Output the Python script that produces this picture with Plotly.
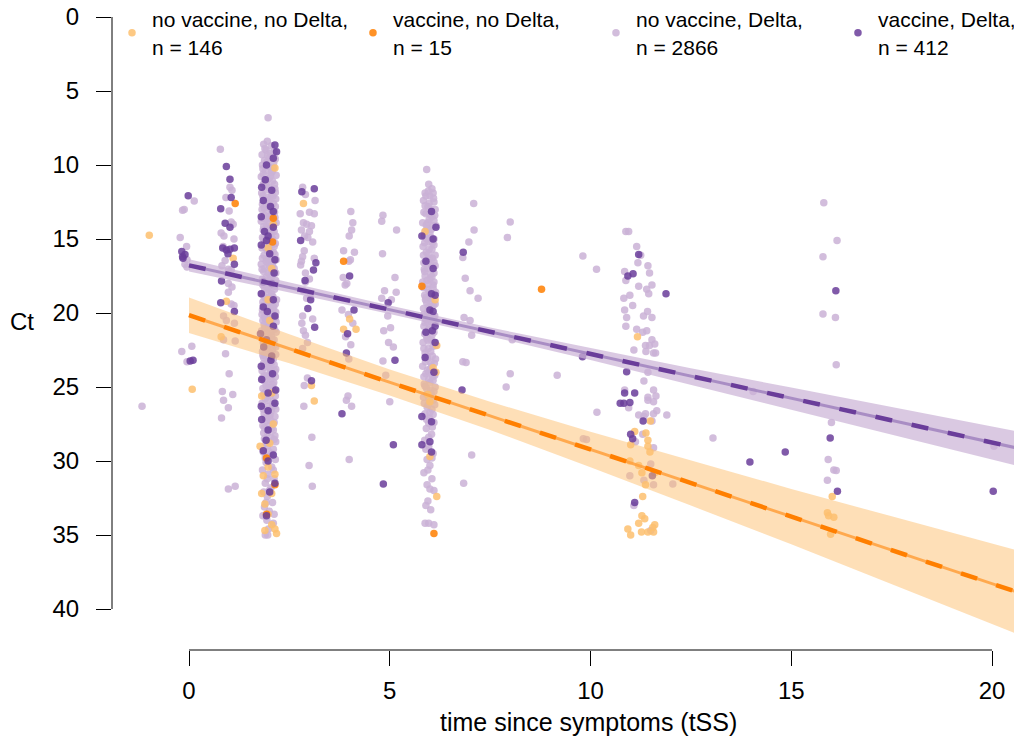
import plotly.graph_objects as go

# ---------------- data ----------------
group_names = ["no vaccine, no Delta,<br>n = 146", "vaccine, no Delta,<br>n = 15",
               "no vaccine, Delta,<br>n = 2866", "vaccine, Delta,<br>n = 412"]
group_colors = ["#FDBF6F", "#FF7F00", "#CAB2D6", "#6A3D9A"]

# no vaccine, no Delta (light orange)
nv_nd_pts = [(-0.99, 14.75), (0.08, 25.16), (0.93, 19.2), (0.8, 21.6), (1.1, 16.3),
             (2.14, 10.2), (2.1, 14.0), (1.97, 15.6), (2.06, 17.0), (1.97, 19.1), (2.01, 20.5),
             (1.9, 22.0), (1.81, 25.6), (2.06, 25.4), (1.77, 29.0), (2.01, 28.8), (1.97, 30.4),
             (2.14, 30.9), (1.81, 32.2), (2.06, 32.2), (1.89, 32.9), (1.97, 33.6), (2.06, 34.3),
             (1.89, 34.7), (2.18, 34.9), (2.14, 34.6), (1.85, 31.0), (2.1, 27.5),
             (2.85, 12.6), (3.05, 24.9), (3.12, 25.95), (3.85, 21.1), (4.16, 21.1), (4.0, 20.4),
             (5.88, 14.5), (6.13, 19.1), (6.17, 22.2), (6.08, 23.7), (6.15, 24.0), (6.0, 26.0),
             (6.0, 29.7), (6.17, 32.4), (5.95, 25.5),
             (11.17, 21.6), (11.49, 27.3), (11.1, 28.0), (11.38, 28.1), (11.43, 28.6), (11.0, 28.9),
             (11.43, 29.0), (11.48, 29.4), (10.98, 30.0), (11.2, 30.3), (11.28, 30.8), (11.6, 30.8),
             (11.37, 31.6), (11.3, 32.4), (11.28, 33.7), (11.2, 34.2), (11.35, 33.9), (11.6, 34.3),
             (11.55, 34.5), (10.93, 34.6), (11.0, 35.0), (11.27, 34.8), (11.43, 34.8), (11.57, 34.8),
             (16.02, 32.4), (15.9, 33.5), (15.93, 33.7), (16.06, 33.8), (15.98, 34.95)]

# vaccine, no Delta (orange)
v_nd_pts = [(1.15, 12.6), (2.1, 13.6), (2.08, 15.2), (1.93, 29.8), (2.14, 31.6), (1.93, 33.6),
            (3.85, 16.5), (5.8, 18.2), (6.1, 34.9), (8.78, 18.4)]

# no vaccine, Delta (lilac)
nv_d_pts = [
    # around day 0
    (-1.17, 26.3), (-0.16, 13.06), (-0.22, 14.9), (-0.06, 15.5), (-0.05, 16.4), (-0.1, 16.7),
    (-0.05, 16.9), (0.07, 22.25), (-0.18, 22.6), (-0.05, 23.3), (0.13, 12.43), (-0.12, 13.0),
    # day 1
    (0.78, 8.94), (1.02, 11.5), (1.07, 11.7), (1.0, 13.1), (1.1, 14.0), (1.05, 13.85), (0.8, 14.6),
    (0.87, 14.8), (1.12, 15.0), (0.9, 16.45), (0.82, 16.8), (0.98, 17.05), (1.05, 17.1),
    (0.98, 18.0), (1.07, 18.25), (0.98, 18.6), (1.05, 19.4), (1.12, 19.5), (0.86, 20.2),
    (0.93, 20.5), (1.13, 20.7), (0.86, 21.8), (1.15, 21.9), (0.91, 22.75), (1.0, 24.1),
    (0.83, 25.3), (1.09, 25.5), (0.86, 25.9), (0.98, 26.4), (0.81, 27.1), (0.98, 31.9),
    (1.15, 31.7), (0.85, 15.5), (0.92, 12.2),
    # day 2 (dense)
    (1.97, 6.8), (1.95, 8.4), (1.86, 8.6), (2.05, 8.7), (1.92, 9.0), (2.12, 9.1), (1.82, 9.3),
    (2.0, 9.5), (1.88, 9.7), (2.15, 9.6), (1.83, 10.0), (1.98, 10.1), (2.1, 10.2), (1.9, 10.4),
    (2.05, 10.5), (2.17, 10.7), (1.8, 10.8), (1.95, 11.0), (2.08, 11.1), (1.85, 11.3), (2.0, 11.5),
    (2.14, 11.6), (1.9, 11.7), (1.81, 11.9), (2.05, 12.0), (1.96, 12.2), (2.16, 12.3), (1.86, 12.4),
    (2.1, 12.6), (1.92, 12.7), (2.02, 12.9), (1.82, 13.0), (2.13, 13.2), (1.88, 13.4), (1.98, 13.5),
    (2.07, 13.7), (1.8, 13.8), (2.17, 13.9), (1.93, 14.1), (2.03, 14.2), (1.85, 14.4), (2.12, 14.5),
    (1.97, 14.7), (1.83, 14.9), (2.08, 15.0), (1.9, 15.2), (2.15, 15.3), (2.0, 15.5), (1.82, 15.6),
    (1.95, 15.8), (2.1, 15.9), (1.87, 16.1), (2.04, 16.2), (2.17, 16.4), (1.92, 16.5), (1.8, 16.7),
    (2.0, 16.8), (2.12, 17.0), (1.86, 17.2), (1.97, 17.3), (2.07, 17.5), (1.83, 17.7), (2.16, 17.8),
    (1.93, 17.9), (2.03, 18.1), (1.88, 18.3), (2.13, 18.4), (1.98, 18.6), (1.81, 18.7), (2.09, 18.9),
    (1.91, 19.0), (2.18, 19.1), (2.0, 19.3), (1.85, 19.5), (2.11, 19.6), (1.95, 19.8), (2.05, 20.0),
    (1.82, 20.1), (2.15, 20.3), (1.9, 20.4), (2.02, 20.6), (1.87, 20.8), (2.1, 20.9), (1.96, 21.1),
    (1.81, 21.2), (2.17, 21.3), (2.05, 21.5), (1.92, 21.6), (2.12, 21.8), (1.85, 22.0), (2.0, 22.1),
    (1.95, 22.3), (2.08, 22.5), (1.83, 22.6), (2.16, 22.8), (1.9, 22.9), (2.03, 23.1), (1.97, 23.3),
    (1.86, 23.4), (2.12, 23.5), (2.0, 23.7), (1.82, 23.9), (2.1, 24.0), (1.93, 24.2), (2.15, 24.3),
    (2.04, 24.5), (1.88, 24.6), (1.98, 24.8), (2.08, 25.0), (1.84, 25.1), (2.13, 25.3), (1.95, 25.4),
    (2.02, 25.6), (1.9, 25.8), (2.1, 26.0), (1.82, 26.1), (1.97, 26.3), (2.16, 26.5), (2.05, 26.6),
    (1.87, 26.8), (2.0, 27.0), (1.93, 27.3), (2.12, 27.4), (1.84, 27.6), (2.06, 27.8), (1.96, 28.1),
    (2.14, 28.3), (1.88, 28.5), (2.02, 28.7), (1.95, 29.0), (2.1, 29.2), (1.85, 29.4), (2.0, 29.7),
    (2.15, 29.9), (1.92, 30.1), (2.06, 30.4), (1.83, 30.6), (1.97, 30.9), (2.12, 31.2), (1.9, 31.5),
    (2.04, 31.8), (1.86, 32.1), (1.95, 32.4), (2.08, 32.8), (1.88, 33.1), (2.0, 33.4), (1.84, 33.7),
    (1.94, 34.0), (2.1, 34.2), (1.98, 34.6), (1.9, 35.0),
    (1.89, 8.9), (2.02, 9.2), (1.94, 9.8), (2.08, 10.4), (1.85, 10.6), (2.0, 10.9), (2.13, 11.3),
    (1.93, 11.4), (1.84, 12.1), (2.09, 12.1), (2.0, 12.5), (1.87, 12.9), (2.15, 12.8), (1.95, 13.1),
    (2.05, 13.4), (1.83, 13.6), (2.11, 14.0), (1.98, 13.9), (1.9, 14.4), (2.06, 14.6), (2.16, 14.8),
    (1.86, 15.0), (1.98, 15.3), (2.12, 15.5), (1.91, 15.6), (2.04, 15.9), (1.83, 16.3), (2.1, 16.5),
    (1.97, 16.6), (1.88, 17.0), (2.06, 17.1), (2.16, 17.3), (1.92, 17.6), (2.0, 17.9), (1.84, 18.1),
    (2.12, 18.2), (1.95, 18.4), (2.06, 18.7), (1.87, 18.9), (2.15, 19.4), (1.98, 19.5), (1.83, 19.8),
    (2.09, 19.8), (1.94, 20.2), (2.03, 20.4), (2.17, 20.6), (1.84, 20.5), (1.98, 20.8), (2.13, 21.1),
    (1.89, 21.0), (2.02, 21.3), (1.95, 21.8), (1.83, 21.7), (2.08, 22.0), (2.16, 22.3), (1.9, 22.4),
    (2.02, 22.7), (1.86, 23.0), (2.1, 23.1), (1.95, 23.6), (2.16, 23.8), (1.87, 23.7), (2.05, 23.9),
    (1.98, 24.3), (1.83, 24.4), (2.11, 24.7), (1.92, 24.9), (2.02, 25.2), (1.86, 25.5), (2.15, 25.6),
    (1.96, 25.9), (2.08, 26.3), (1.85, 26.5), (2.02, 26.9), (2.14, 27.0), (1.9, 27.1), (1.98, 27.6),
    (2.1, 27.9), (1.86, 28.1), (2.04, 28.4), (2.16, 28.7), (1.92, 28.8), (2.07, 29.5), (1.9, 29.8),
    (2.1, 30.6), (1.95, 31.2), (2.0, 32.0), (1.92, 32.8), (2.12, 33.6), (1.96, 35.0),
    (1.96, 9.35), (2.11, 9.85), (1.84, 10.25), (2.03, 10.75), (1.9, 11.15), (2.15, 11.85), (1.99, 12.35),
    (1.83, 12.65), (2.07, 13.05), (1.92, 13.65), (2.14, 13.55), (1.86, 14.15), (2.01, 14.35), (2.09, 15.35),
    (1.88, 15.45), (2.02, 15.05), (2.14, 16.05), (1.95, 16.35), (2.08, 16.75), (1.82, 17.05), (2.02, 17.45),
    (1.9, 17.85), (2.14, 18.05), (1.96, 18.25), (2.04, 18.85), (1.84, 19.25), (1.93, 19.65), (2.07, 19.45),
    (2.16, 19.95), (1.88, 20.25), (2.1, 20.35), (2.0, 20.95), (1.85, 21.35), (2.07, 21.75), (1.94, 22.05),
    (2.12, 22.15), (1.98, 22.55), (1.84, 22.85), (2.06, 23.35), (1.92, 23.45), (2.14, 23.95), (1.87, 24.25),
    (2.02, 24.05), (2.09, 24.85), (1.9, 25.35), (1.99, 25.05), (2.12, 26.25), (1.94, 26.55), (2.03, 27.25),
    (1.88, 27.75), (2.12, 28.55), (1.98, 29.35),
    # day 3
    (2.83, 11.5), (3.14, 12.4), (2.77, 13.3), (3.0, 13.2), (3.12, 13.3), (2.85, 13.9), (2.93, 14.0),
    (3.05, 14.1), (2.8, 14.4), (3.0, 14.5), (2.88, 14.8), (3.08, 15.2), (2.96, 14.9), (2.87, 15.8),
    (2.83, 16.2), (2.8, 16.5), (3.12, 16.3), (2.78, 16.75), (2.9, 17.3), (3.0, 17.7), (2.9, 17.9),
    (2.85, 18.5), (2.93, 19.0), (3.02, 18.9), (2.83, 20.2), (3.08, 20.4), (2.81, 20.7), (2.85, 21.2),
    (2.9, 21.5), (2.95, 22.0), (2.83, 22.4), (2.87, 24.9), (2.86, 26.3), (3.06, 28.4), (2.99, 30.3),
    (3.07, 31.7), (2.95, 24.4), (2.9, 12.0),
    # day 4
    (4.03, 13.15), (4.08, 13.9), (4.05, 14.4), (3.99, 14.8), (3.85, 15.8), (4.12, 15.9), (4.02, 16.4),
    (3.98, 16.5), (3.84, 17.6), (3.89, 18.1), (3.93, 18.0), (3.81, 19.8), (3.97, 20.1), (4.08, 20.7),
    (3.9, 21.6), (4.03, 22.15), (3.98, 23.1), (3.96, 25.6), (3.92, 25.9), (4.05, 26.3), (3.99, 29.9),
    # day 5
    (4.83, 13.4), (4.8, 13.8), (5.17, 14.4), (4.82, 15.99), (5.13, 17.6), (4.87, 18.5), (5.16, 18.6),
    (4.8, 19.0), (5.04, 19.1), (4.95, 20.2), (5.02, 21.0), (4.85, 21.2), (4.97, 22.0), (5.09, 22.3),
    (4.83, 23.25), (4.9, 24.2), (5.0, 26.0),
    # day 6 (dense)
    (5.92, 10.3), (5.97, 11.3), (6.05, 11.6), (5.88, 11.9), (6.0, 12.1), (5.84, 12.4), (6.1, 12.5),
    (5.95, 12.8), (6.03, 13.0), (5.9, 13.3), (6.12, 13.4), (5.98, 13.7), (5.82, 13.9), (6.07, 14.1),
    (5.93, 14.3), (6.0, 14.6), (5.86, 14.8), (6.1, 15.0), (5.96, 15.2), (5.83, 15.5), (6.05, 15.7),
    (5.91, 15.9), (6.13, 16.1), (5.99, 16.3), (5.85, 16.6), (6.04, 16.8), (5.93, 17.0), (6.1, 17.3),
    (5.88, 17.5), (6.0, 17.7), (5.82, 17.9), (6.08, 18.1), (5.95, 18.4), (6.14, 18.6), (5.87, 18.8),
    (6.02, 19.0), (5.92, 19.3), (6.08, 19.5), (5.84, 19.7), (5.98, 20.0), (6.12, 20.2), (5.9, 20.4),
    (6.04, 20.6), (5.85, 20.9), (5.97, 21.1), (6.1, 21.3), (5.92, 21.6), (6.03, 21.8), (5.83, 22.0),
    (6.14, 22.2), (5.96, 22.4), (5.88, 22.7), (6.06, 22.9), (5.94, 23.1), (6.11, 23.4), (5.82, 23.6),
    (6.0, 23.8), (5.9, 24.1), (6.07, 24.3), (5.97, 24.5), (5.86, 24.8), (6.13, 25.0), (6.02, 25.2),
    (5.92, 25.5), (5.84, 25.7), (6.08, 25.9), (5.96, 26.2), (6.05, 26.5), (5.88, 26.8), (5.99, 27.1),
    (6.1, 27.4), (5.91, 27.8), (6.04, 28.2), (5.87, 28.6), (5.97, 29.0), (6.08, 29.5), (5.93, 29.9),
    (6.0, 30.3), (5.85, 30.8), (6.05, 31.2), (5.93, 31.6), (6.1, 32.0), (5.95, 32.7), (6.02, 33.3),
    (5.88, 34.2), (5.97, 34.2), (6.1, 34.3),
    (6.08, 11.9), (5.9, 12.1), (5.98, 12.6), (6.13, 13.0), (5.85, 13.2), (6.05, 13.5), (5.95, 13.9),
    (6.15, 14.1), (5.88, 14.5), (6.03, 14.9), (5.92, 15.0), (6.1, 15.4), (5.98, 15.7), (5.84, 16.1),
    (6.06, 16.3), (5.95, 16.6), (6.13, 16.8), (5.87, 17.2), (6.02, 17.4), (5.93, 17.8), (6.1, 17.9),
    (5.84, 18.3), (5.99, 18.6), (6.06, 18.9), (5.89, 19.1), (6.13, 19.4), (5.96, 19.6), (5.85, 20.1),
    (6.07, 20.2), (5.94, 20.6), (6.13, 20.7), (6.0, 21.0), (5.87, 21.4), (6.05, 21.5), (5.96, 21.9),
    (6.12, 22.0), (5.85, 22.4), (6.02, 22.6), (5.93, 22.9), (6.14, 23.1), (5.89, 23.3), (6.04, 23.6),
    (5.97, 24.0), (6.12, 24.2), (5.85, 24.3), (6.0, 24.7), (5.92, 25.1), (6.1, 25.3), (5.97, 25.8),
    (5.86, 26.1), (6.12, 26.2), (6.0, 26.7), (5.92, 27.2), (6.06, 27.7), (5.97, 28.4), (5.9, 29.2),
    (6.05, 29.8), (5.95, 30.6), (6.0, 31.9), (5.9, 33.0),
    (5.96, 11.75), (6.09, 12.25), (5.88, 12.75), (6.0, 13.35), (6.1, 13.75), (5.91, 14.05), (6.03, 14.35),
    (5.87, 15.25), (6.06, 15.25), (5.96, 16.05), (6.1, 16.55), (5.86, 17.05), (6.05, 17.55), (5.95, 18.05),
    (6.08, 18.35), (5.9, 18.95), (6.03, 19.25), (5.94, 19.95), (6.09, 20.45), (5.88, 20.65), (6.02, 21.25),
    (5.93, 21.75), (6.08, 22.25), (5.9, 22.95), (6.02, 23.35), (5.94, 23.85), (6.08, 24.55), (5.88, 24.95),
    (6.03, 25.45), (5.93, 26.35), (6.08, 26.85), (5.97, 27.45),
    # days 7-10
    (7.09, 12.6), (8.0, 13.85), (7.1, 14.4), (7.93, 14.9), (6.97, 15.2), (6.82, 16.25), (9.81, 16.15),
    (10.15, 17.05), (6.88, 17.65), (7.0, 18.5), (7.2, 19.0), (6.85, 20.3), (7.0, 20.5), (7.04, 21.5),
    (8.05, 21.8), (6.82, 23.3), (6.9, 23.35), (8.0, 24.1), (9.17, 24.2), (7.9, 25.0), (10.16, 26.7),
    (9.82, 28.5), (9.9, 28.55), (7.04, 29.6), (6.84, 31.5),
    # day 11
    (10.88, 14.5), (10.95, 14.5), (11.15, 15.5), (11.25, 16.1), (11.18, 16.6), (11.43, 16.8),
    (11.47, 17.3), (10.85, 17.2), (10.88, 17.8), (11.2, 18.2), (11.4, 18.4), (11.53, 18.1),
    (11.45, 18.7), (10.83, 19.0), (10.98, 18.8), (11.05, 19.5), (10.85, 19.8), (10.9, 20.3),
    (10.88, 20.9), (11.32, 20.2), (11.42, 19.9), (11.53, 20.3), (11.15, 21.1), (11.3, 21.3),
    (11.4, 21.2), (11.37, 22.2), (11.53, 21.8), (11.47, 22.2), (11.6, 22.1), (11.57, 22.7),
    (11.38, 22.6), (11.08, 22.5), (11.62, 22.7), (11.43, 24.0), (11.33, 24.6), (11.57, 25.2),
    (11.63, 25.6), (11.43, 25.7), (10.85, 25.2), (11.43, 25.9), (11.57, 26.0), (11.65, 26.6),
    (11.57, 26.8), (11.37, 26.8), (11.2, 26.9), (11.33, 27.0), (11.53, 27.3), (10.95, 26.4),
    (11.9, 26.9), (11.3, 28.2), (11.57, 29.1), (11.12, 28.7), (11.5, 30.2), (10.98, 31.0),
    (12.05, 31.55), (11.33, 31.3), (11.57, 31.6), (11.08, 33.0), (11.5, 34.7),
    # days 12-20
    (13.05, 28.45), (14.05, 25.3), (15.81, 12.55), (16.14, 15.1), (15.79, 16.2), (15.79, 20.06),
    (16.1, 20.3), (16.12, 23.5), (16.0, 27.4), (15.92, 29.9), (16.06, 30.6), (16.12, 30.65),
    (15.9, 31.3), (20.05, 29.0)]

# vaccine, Delta (dark purple)
v_d_pts = [
    (-0.02, 12.07), (-0.18, 15.85), (-0.16, 16.2), (-0.15, 16.3), (-0.1, 16.05), (0.03, 23.25), (0.1, 23.2),
    (0.93, 10.1), (1.02, 10.97), (1.05, 12.2), (0.79, 12.95), (0.9, 13.94), (1.02, 14.2), (0.84, 15.6),
    (0.93, 15.75), (1.13, 15.6), (1.02, 15.7), (1.13, 16.7), (0.81, 17.84), (0.79, 19.3), (1.13, 19.9),
    (0.97, 16.0),
    (2.14, 8.65), (2.18, 9.1), (2.1, 9.55), (1.93, 10.0), (1.81, 11.5), (2.06, 11.7), (1.85, 12.4),
    (2.1, 13.15), (1.8, 13.5), (2.1, 14.2), (1.97, 14.8), (1.93, 15.1), (1.8, 15.4), (2.01, 16.0),
    (2.14, 16.4), (1.85, 17.9), (2.06, 18.0), (1.8, 18.7), (2.1, 19.1), (1.85, 19.6), (2.14, 20.2),
    (2.1, 20.9), (1.78, 21.4), (1.93, 21.8), (2.06, 22.9), (1.8, 23.6), (1.81, 24.5), (2.16, 25.2),
    (1.97, 25.4), (2.14, 26.1), (1.8, 26.3), (1.97, 26.6), (1.81, 27.2), (1.97, 27.9), (1.85, 29.3),
    (2.1, 29.6), (1.97, 30.0), (2.14, 31.5), (2.01, 32.1), (1.93, 33.7), (1.9, 11.0), (2.03, 12.8),
    (1.88, 14.5), (2.12, 17.3), (1.95, 19.9), (2.04, 23.2), (1.86, 22.3), (2.08, 24.1), (1.92, 28.6),
    (2.81, 11.8), (3.12, 11.6), (2.78, 15.1), (3.16, 16.6), (3.1, 17.1), (2.89, 17.8), (3.03, 19.1),
    (2.96, 19.7), (3.13, 20.97), (3.05, 24.57),
    (4.0, 17.5), (4.11, 19.8), (3.95, 21.4), (3.92, 22.7), (3.81, 26.8),
    (4.96, 19.3), (5.13, 23.2), (5.09, 28.9), (4.84, 31.55),
    (6.04, 13.15), (6.15, 14.2), (5.8, 14.8), (6.08, 15.0), (6.08, 17.0), (6.04, 18.7), (6.13, 18.8),
    (6.0, 19.8), (6.08, 19.9), (6.13, 20.9), (5.9, 21.3), (6.06, 21.2), (6.13, 22.0), (5.8, 27.0),
    (6.04, 27.35), (5.8, 28.9), (6.0, 28.7), (6.04, 29.4), (5.9, 16.5), (6.1, 24.0), (5.88, 23.0),
    (6.83, 15.9), (6.8, 25.2), (9.8, 22.95), (10.74, 26.1),
    (11.2, 16.05), (10.93, 17.5), (11.06, 17.35), (11.88, 18.7), (10.9, 23.97), (10.85, 25.4),
    (11.1, 25.4), (10.83, 26.1), (10.98, 26.05), (11.31, 27.3), (11.05, 28.5), (11.54, 31.0),
    (11.1, 32.8), (11.0, 28.2),
    (13.97, 30.07), (14.85, 29.4), (16.11, 18.5), (15.97, 28.45), (16.15, 32.05), (20.03, 32.05)]

# fitted lines and confidence bands
fit_x = [0, 20.75]
no_delta_fit = [20.15, 38.97]
delta_fit = [16.78, 29.2]
band_x = [0, 2.5, 5, 7.5, 10, 12.5, 15, 17.5, 20.75]
no_delta_upper = [18.95, 21.44, 23.81, 26.0, 28.02, 29.97, 31.89, 33.74, 36.12]
no_delta_lower = [21.35, 23.4, 25.57, 27.9, 30.42, 33.01, 35.63, 38.3, 41.82]
delta_upper = [16.36, 17.95, 19.5, 20.98, 22.38, 23.73, 25.04, 26.35, 28.06]
delta_lower = [17.2, 18.61, 20.06, 21.58, 23.18, 24.83, 26.52, 28.21, 30.4]

x_ticks = [0, 5, 10, 15, 20]
y_ticks = [0, 5, 10, 15, 20, 25, 30, 35, 40]

# ---------------- figure ----------------
FONT = "Liberation Sans, Arial, sans-serif"
fig = go.Figure()

legend_ids = ["legend", "legend2", "legend3", "legend4"]
groups = [nv_nd_pts, v_nd_pts, nv_d_pts, v_d_pts]
draw_order = [2, 0, 1, 3]
for gi in draw_order:
    pts = groups[gi]
    fig.add_trace(go.Scatter(
        x=[p[0] for p in pts], y=[p[1] for p in pts], mode="markers",
        name=group_names[gi], legend=legend_ids[gi],
        marker=dict(color=group_colors[gi], size=7.5, opacity=0.85, line=dict(width=0)),
        hoverinfo="skip"))

# confidence bands
for up, lo, col in [(no_delta_upper, no_delta_lower, "rgba(253,191,111,0.5)"),
                    (delta_upper, delta_lower, "rgba(202,178,214,0.7)")]:
    fig.add_trace(go.Scatter(x=band_x + band_x[::-1], y=up + lo[::-1], fill="toself",
                             fillcolor=col, line=dict(width=0), mode="lines",
                             showlegend=False, hoverinfo="skip"))

# fitted lines: light solid + dark dashes
for yy, light, dark in [(no_delta_fit, "rgba(255,160,60,0.85)", "#FF7F00"),
                        (delta_fit, "rgba(160,130,190,0.85)", "#6A3D9A")]:
    fig.add_trace(go.Scatter(x=fit_x, y=yy, mode="lines", line=dict(color=light, width=3),
                             showlegend=False, hoverinfo="skip"))
    fig.add_trace(go.Scatter(x=fit_x, y=yy, mode="lines",
                             line=dict(color=dark, width=4.5, dash="17px,20px"),
                             showlegend=False, hoverinfo="skip"))

# detached axis lines (R style)
fig.add_shape(type="line", xref="paper", yref="y", x0=0, x1=0, y0=y_ticks[0], y1=y_ticks[-1],
              line=dict(color="black", width=1))
fig.add_shape(type="line", xref="x", yref="paper", x0=x_ticks[0], x1=x_ticks[-1], y0=0, y1=0,
              line=dict(color="black", width=1))

fig.add_annotation(text="time since symptoms (tSS)", xref="paper", yref="paper",
                   x=0.5196, y=-0.112, showarrow=False, xanchor="center", yanchor="middle",
                   font=dict(size=25, color="black", family=FONT))
fig.add_annotation(text="Ct", xref="paper", yref="paper", x=-0.098, y=0.511,
                   showarrow=False, xanchor="center", yanchor="middle",
                   font=dict(size=24, color="black", family=FONT))

leg_common = dict(orientation="h", y=1.014, xanchor="left", yanchor="top",
                  font=dict(size=21, family=FONT, color="black"),
                  bgcolor="rgba(0,0,0,0)", itemclick=False)
fig.update_layout(
    width=1022, height=746,
    margin=dict(l=104, r=0, t=0, b=104, autoexpand=False),
    paper_bgcolor="white", plot_bgcolor="white",
    font=dict(family=FONT, color="black"),
    showlegend=True,
    legend=dict(x=0.0, **leg_common),
    legend2=dict(x=0.2625, **leg_common),
    legend3=dict(x=0.5272, **leg_common),
    legend4=dict(x=0.7908, **leg_common),
    xaxis=dict(range=[-1.918, 20.946], tickvals=x_ticks, ticks="outside", ticklen=15,
               tickcolor="black", tickwidth=1, showgrid=False, zeroline=False, showline=False,
               tickfont=dict(size=24), ticklabelstandoff=4, automargin=False),
    yaxis=dict(range=[42.77, -0.608], tickvals=y_ticks, ticks="outside", ticklen=15,
               tickcolor="black", tickwidth=1, showgrid=False, zeroline=False, showline=False,
               tickfont=dict(size=24), ticklabelstandoff=12, ticklabeloverflow="allow",
               automargin=False),
)

fig.write_html("out.html")
